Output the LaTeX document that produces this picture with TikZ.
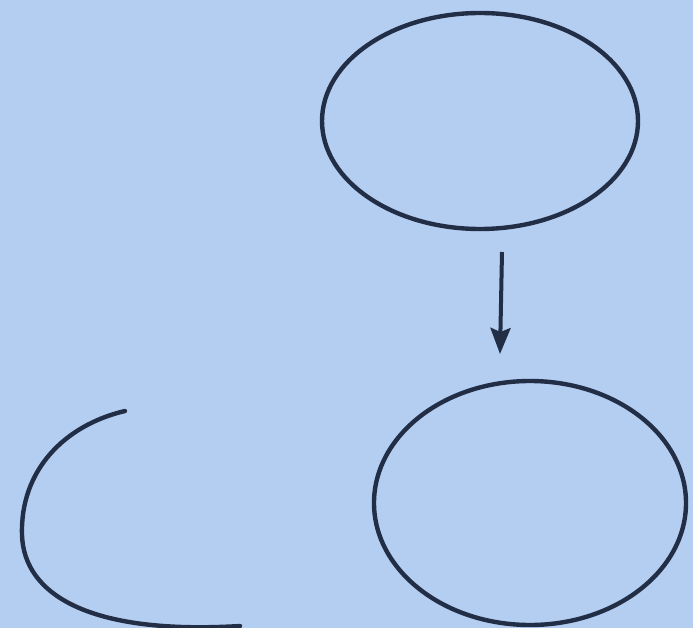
\documentclass[tikz,border=0pt]{standalone}
\usetikzlibrary{shapes.geometric,arrows.meta}
\definecolor{bg}{RGB}{180,206,242}
\definecolor{ink}{RGB}{34,46,70}
\tikzset{
  sketch/.style={draw=ink, line width=4.4pt},
  blob/.style={sketch, ellipse, inner sep=0pt},
}
\begin{document}
\begin{tikzpicture}[x=1pt,y=-1pt]
\fill[bg] (0,0) rectangle (693,628);
\useasboundingbox (0,0) rectangle (693,628);
\node[blob, minimum width=316pt, minimum height=216pt] (top) at (480,121) {};
\node[blob, minimum width=312pt, minimum height=244pt] (bottom) at (530,503) {};
\coordinate (a1) at (502,252);
\coordinate (a2) at (500,354);
\draw[sketch, line width=4pt, -{Stealth[length=26pt,width=20pt,inset=4pt]}] (a1) -- (a2);
\coordinate (c0) at (125,411);
\coordinate (c1) at (22,535);
\coordinate (c2) at (240,626);
\draw[sketch, line cap=round] (c0) .. controls (65,425) and (20,470) .. (c1)
  .. controls (24,595) and (90,635) .. (c2);
\end{tikzpicture}
\end{document}
